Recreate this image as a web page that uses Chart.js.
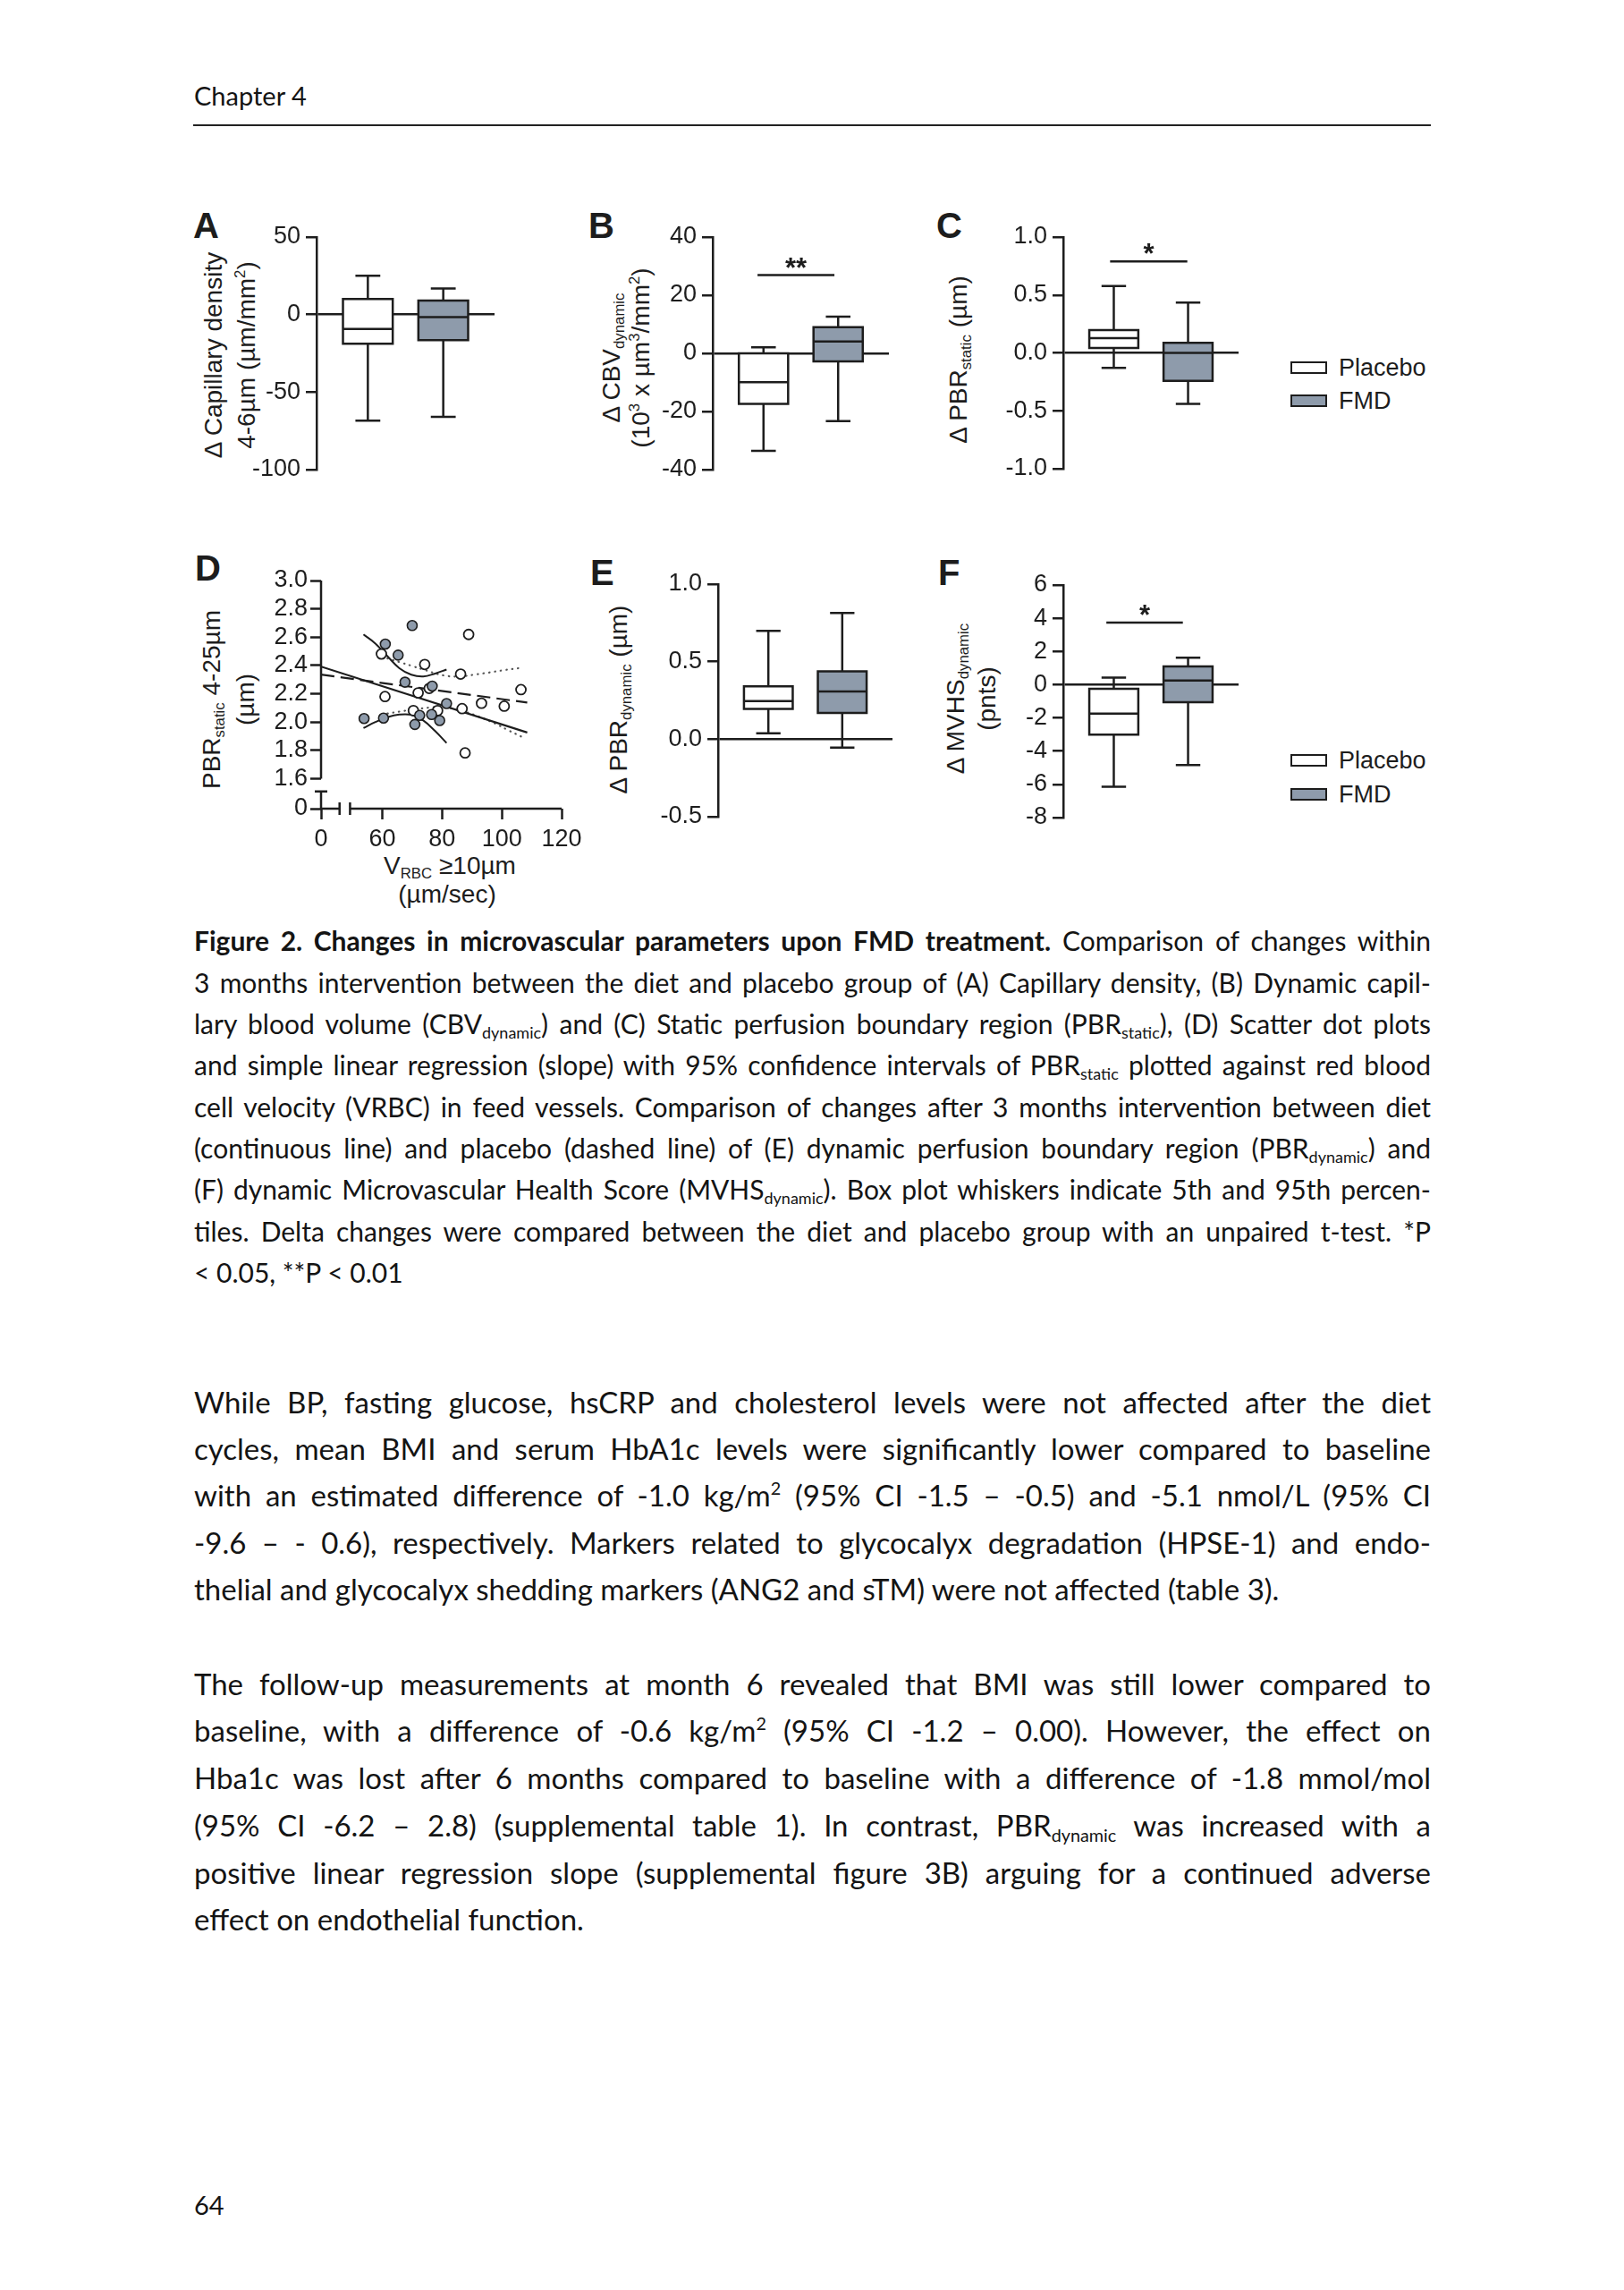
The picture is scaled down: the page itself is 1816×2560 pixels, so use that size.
<!DOCTYPE html>
<html>
<head>
<meta charset="utf-8">
<script src="https://cdn.jsdelivr.net/npm/chart.js@4.4.0/dist/chart.umd.min.js"></script>
<style>
  html, body { margin: 0; padding: 0; background: #fff; }
  body { width: 1816px; height: 2560px; position: relative; overflow: hidden; color: #141414; font-family: Lato, 'Noto Sans', sans-serif; }
  canvas { position: absolute; }
  .txt { position: absolute; left: 217px; width: 1383px; white-space: normal; }
  .cap { font-size: 30px; line-height: 36px; height: 36px; text-align: justify; text-align-last: justify; }
  .body { font-size: 33px; line-height: 40px; height: 40px; text-align: justify; text-align-last: justify; }
  .last { text-align: left; text-align-last: left; }
  sub, sup { font-size: 0.6em; line-height: 0; }
  sub { vertical-align: -0.3em; }
  sup { vertical-align: 0.65em; }
  .fig { position: absolute; font-family: 'Liberation Sans', Arial, Helvetica, sans-serif; color: #1d1d1d; white-space: nowrap; }
  .letter { font-size: 40px; font-weight: bold; line-height: 40px; }
  .ytitle { font-size: 28px; text-align: center; transform: translate(-50%, -50%) rotate(-90deg); }
  .xtitle { font-size: 28px; text-align: center; line-height: 30px; transform: translate(-50%, -50%); }
  .swatch { position: absolute; width: 37px; height: 10px; border: 2.5px solid #1d1d1d; }
  .legtext { font-size: 27px; line-height: 30px; }
  .rule { position: absolute; left: 216px; top: 139px; width: 1384px; height: 2px; background: #222; }
</style>
</head>
<body>

<div class="txt" style="top:87px; font-size:29px; line-height:40px;">Chapter 4</div>
<div class="rule"></div>

<!-- panel letters -->
<div class="fig letter" style="left:216px; top:232px;">A</div>
<div class="fig letter" style="left:658px; top:232px;">B</div>
<div class="fig letter" style="left:1047px; top:232px;">C</div>
<div class="fig letter" style="left:218px; top:615px;">D</div>
<div class="fig letter" style="left:660px; top:620px;">E</div>
<div class="fig letter" style="left:1049px; top:620px;">F</div>

<!-- axis titles -->
<div class="fig ytitle" style="left:257px; top:397px; line-height:37px;">Δ Capillary density<br>4-6µm (µm/mm<sup>2</sup>)</div>
<div class="fig ytitle" style="left:700px; top:400px; line-height:33px;">Δ CBV<sub>dynamic</sub><br>(10<sup>3</sup> x µm<sup>3</sup>/mm<sup>2</sup>)</div>
<div class="fig ytitle" style="left:1072px; top:402px; line-height:30px;">Δ PBR<sub>static</sub> (µm)</div>
<div class="fig ytitle" style="left:256px; top:782px; line-height:38px;">PBR<sub>static</sub> 4-25µm<br>(µm)</div>
<div class="fig ytitle" style="left:692px; top:782px; line-height:30px;">Δ PBR<sub>dynamic</sub> (µm)</div>
<div class="fig ytitle" style="left:1086px; top:781px; line-height:35px;">Δ MVHS<sub>dynamic</sub><br>(pnts)</div>
<div class="fig xtitle" style="left:503px; top:968px;">V<sub>RBC</sub> ≥10µm</div>
<div class="fig xtitle" style="left:500px; top:1000px;">(µm/sec)</div>

<!-- legends -->
<div class="swatch" style="left:1443px; top:404px; background:#fff;"></div>
<div class="fig legtext" style="left:1497px; top:396px;">Placebo</div>
<div class="swatch" style="left:1443px; top:441px; background:#8e9bab;"></div>
<div class="fig legtext" style="left:1497px; top:433px;">FMD</div>
<div class="swatch" style="left:1443px; top:843px; background:#fff;"></div>
<div class="fig legtext" style="left:1497px; top:835px;">Placebo</div>
<div class="swatch" style="left:1443px; top:881px; background:#8e9bab;"></div>
<div class="fig legtext" style="left:1497px; top:873px;">FMD</div>

<canvas id="chartA" width="285" height="308" style="left:274px; top:241px;"></canvas>
<canvas id="chartB" width="283" height="308" style="left:717px; top:241px;"></canvas>
<canvas id="chartC" width="282" height="307" style="left:1109px; top:241px;"></canvas>
<canvas id="chartD" width="389" height="329" style="left:269px; top:625px;"></canvas>
<canvas id="chartE" width="281" height="308" style="left:723px; top:629px;"></canvas>
<canvas id="chartF" width="282" height="308" style="left:1109px; top:630px;"></canvas>

<!-- caption -->
<div class="txt cap" style="top:1033px;"><b>Figure 2. Changes in microvascular parameters upon FMD treatment.</b> Comparison of changes within</div>
<div class="txt cap" style="top:1080px;">3 months intervention between the diet and placebo group of (A) Capillary density, (B) Dynamic capil-</div>
<div class="txt cap" style="top:1126px;">lary blood volume (CBV<sub>dynamic</sub>) and (C) Static perfusion boundary region (PBR<sub>static</sub>), (D) Scatter dot plots</div>
<div class="txt cap" style="top:1172px;">and simple linear regression (slope) with 95% confidence intervals of PBR<sub>static</sub> plotted against red blood</div>
<div class="txt cap" style="top:1219px;">cell velocity (VRBC) in feed vessels. Comparison of changes after 3 months intervention between diet</div>
<div class="txt cap" style="top:1265px;">(continuous line) and placebo (dashed line) of (E) dynamic perfusion boundary region (PBR<sub>dynamic</sub>) and</div>
<div class="txt cap" style="top:1311px;">(F) dynamic Microvascular Health Score (MVHS<sub>dynamic</sub>). Box plot whiskers indicate 5th and 95th percen-</div>
<div class="txt cap" style="top:1358px;">tiles. Delta changes were compared between the diet and placebo group with an unpaired t-test. *P</div>
<div class="txt cap last" style="top:1404px;">&lt; 0.05, **P &lt; 0.01</div>

<!-- body text -->
<div class="txt body" style="top:1547px;">While BP, fasting glucose, hsCRP and cholesterol levels were not affected after the diet</div>
<div class="txt body" style="top:1599px;">cycles, mean BMI and serum HbA1c levels were significantly lower compared to baseline</div>
<div class="txt body" style="top:1651px;">with an estimated difference of -1.0 kg/m<sup>2</sup> (95% CI -1.5 – -0.5) and -5.1 nmol/L (95% CI</div>
<div class="txt body" style="top:1704px;">-9.6 – - 0.6), respectively. Markers related to glycocalyx degradation (HPSE-1) and endo-</div>
<div class="txt body last" style="top:1756px;">thelial and glycocalyx shedding markers (ANG2 and sTM) were not affected (table 3).</div>

<div class="txt body" style="top:1862px;">The follow-up measurements at month 6 revealed that BMI was still lower compared to</div>
<div class="txt body" style="top:1914px;">baseline, with a difference of -0.6 kg/m<sup>2</sup> (95% CI -1.2 – 0.00). However, the effect on</div>
<div class="txt body" style="top:1967px;">Hba1c was lost after 6 months compared to baseline with a difference of -1.8 mmol/mol</div>
<div class="txt body" style="top:2020px;">(95% CI -6.2 – 2.8) (supplemental table 1). In contrast, PBR<sub>dynamic</sub> was increased with a</div>
<div class="txt body" style="top:2073px;">positive linear regression slope (supplemental figure 3B) arguing for a continued adverse</div>
<div class="txt body last" style="top:2125px;">effect on endothelial function.</div>

<div class="txt" style="top:2445px; font-size:29px; line-height:40px;">64</div>

<script>
// values: [5th pct, Q1, median, Q3, 95th pct]
const capDensityPlacebo = [-68.4, -18.8, -9.3, 10.0, 25.0];
const capDensityFMD = [-66.0, -16.5, -1.7, 9.0, 16.8];
const capDensityTicks = [-100, -50, 0, 50];

const cbvPlacebo = [-33.5, -17.4, -9.9, 0.0, 2.1];
const cbvFMD = [-23.3, -2.8, 4.1, 9.0, 12.6];
const cbvTicks = [-40, -20, 0, 20, 40];

const pbrStaticPlacebo = [-0.13, 0.042, 0.128, 0.196, 0.577];
const pbrStaticFMD = [-0.44, -0.242, 0.0, 0.086, 0.435];
const pbrStaticTicks = [-1.0, -0.5, 0.0, 0.5, 1.0];

const pbrDynPlacebo = [0.038, 0.195, 0.245, 0.341, 0.699];
const pbrDynFMD = [-0.054, 0.169, 0.307, 0.437, 0.814];
const pbrDynTicks = [-0.5, 0.0, 0.5, 1.0];

const mvhsPlacebo = [-6.14, -3.0, -1.74, -0.25, 0.43];
const mvhsFMD = [-4.83, -1.06, 0.25, 1.095, 1.63];
const mvhsTicks = [-8, -6, -4, -2, 0, 2, 4, 6];

// significance bars (y level, label)
const sigB = [26.9, '**'];
const sigC = [0.79, '*'];
const sigF = [3.74, '*'];

// panel D scatter: V_RBC (x) vs PBR_static (y)
const vrbcFMD = [70.0, 61.0, 65.3, 67.6, 53.9, 60.4, 72.5, 70.9, 76.5, 79.2, 81.5, 76.7];
const pbrFMD  = [2.682, 2.551, 2.473, 2.282, 2.025, 2.028, 2.047, 1.983, 2.053, 2.011, 2.131, 2.254];
const vrbcPlacebo = [88.9, 59.7, 74.2, 86.2, 106.4, 75.7, 72.0, 60.9, 93.2, 100.8, 86.7, 78.5, 70.4, 87.7];
const pbrPlacebo  = [2.619, 2.481, 2.407, 2.339, 2.229, 2.238, 2.206, 2.180, 2.133, 2.112, 2.095, 2.081, 2.081, 1.782];

// regression lines: value at the axis ("0") and at the right end
const fitEndX = 108.5;
const fitSolidY = [2.392, 1.926];
const fitDashedY = [2.335, 2.138];
// confidence bands
const ciFMDx = [53.7, 57.7, 61.7, 65.7, 69.7, 73.7, 77.7, 81.5];
const ciFMDupper = [2.619, 2.555, 2.466, 2.381, 2.335, 2.322, 2.343, 2.371];
const ciFMDlower = [1.958, 2.0, 2.034, 2.053, 2.051, 2.011, 1.936, 1.852];
const ciPlaceboUpperX = [61.7, 65.7, 69.7, 73.7, 80.7, 85.7, 90.7, 95.7, 100.7, 105.7];
const ciPlaceboUpper = [2.45, 2.424, 2.398, 2.371, 2.329, 2.322, 2.335, 2.35, 2.367, 2.381];
const ciPlaceboLowerX = [61.7, 65.7, 70.7, 75.7, 79.7, 85.7, 91.7, 97.7, 101.7, 106.7];
const ciPlaceboLower = [2.06, 2.074, 2.089, 2.102, 2.106, 2.085, 2.043, 1.99, 1.947, 1.895];
const xTicksD = [60, 80, 100, 120];
const yTicksD = [1.6, 1.8, 2.0, 2.2, 2.4, 2.6, 2.8, 3.0];

const INK = '#1d1d1d';
const FMD_FILL = '#8e9bab';
const FONT = "'Liberation Sans', Arial, Helvetica, sans-serif";
const TICK_SIZE = 27;

Chart.defaults.font.family = FONT;
Chart.defaults.font.size = TICK_SIZE;
Chart.defaults.color = INK;
Chart.defaults.animation = false;
Chart.defaults.events = [];
Chart.defaults.plugins.legend.display = false;
Chart.defaults.plugins.tooltip.enabled = false;

const X_MIN = 0.32, X_MAX = 2.68, BOX_HALF = 0.33, CAP_HALF = 0.165;

const pts = (xs, ys) => xs.map((x, i) => ({ x: x, y: ys[i] }));

function boxSets(stats, xc, fill) {
  const [lo, q1, med, q3, hi] = stats;
  const base = { showLine: true, pointRadius: 0, borderColor: INK, borderWidth: 2.5, fill: false };
  return [
    { ...base, order: 3, data: [{ x: xc, y: lo }, { x: xc, y: hi }] },
    { ...base, order: 3, data: [
      { x: xc - CAP_HALF, y: lo }, { x: xc + CAP_HALF, y: lo }, { x: xc, y: null },
      { x: xc - CAP_HALF, y: hi }, { x: xc + CAP_HALF, y: hi }] },
    { ...base, order: 2, fill: 'shape', backgroundColor: fill, borderJoinStyle: 'miter', borderCapStyle: 'square',
      data: [{ x: xc - BOX_HALF, y: q1 }, { x: xc + BOX_HALF, y: q1 }, { x: xc + BOX_HALF, y: q3 },
             { x: xc - BOX_HALF, y: q3 }, { x: xc - BOX_HALF, y: q1 }] },
    { ...base, order: 1, data: [{ x: xc - BOX_HALF, y: med }, { x: xc + BOX_HALF, y: med }] }
  ];
}

// star labels above significance bars + broken axes for panel D
const decorations = {
  id: 'decorations',
  beforeDatasetsDraw(chart, args, opts) {
    const br = opts.broken;
    if (!br) return;
    const { ctx, chartArea: a, scales: { x, y } } = chart;
    ctx.save();
    ctx.strokeStyle = INK;
    ctx.lineWidth = 2.5;
    ctx.beginPath();
    ctx.moveTo(a.left, a.top); ctx.lineTo(a.left, y.getPixelForValue(br.yUpperEnd));
    const yb = y.getPixelForValue(br.yLowerTop);
    ctx.moveTo(a.left, yb); ctx.lineTo(a.left, a.bottom);
    ctx.moveTo(a.left - 7, yb); ctx.lineTo(a.left + 7, yb);
    const xl = x.getPixelForValue(br.xLeftEnd), xr = x.getPixelForValue(br.xRightStart);
    ctx.moveTo(a.left, a.bottom); ctx.lineTo(xl, a.bottom);
    ctx.moveTo(xl, a.bottom - 7); ctx.lineTo(xl, a.bottom + 7);
    ctx.moveTo(xr, a.bottom - 7); ctx.lineTo(xr, a.bottom + 7);
    ctx.moveTo(xr, a.bottom); ctx.lineTo(a.right, a.bottom);
    ctx.stroke();
    ctx.restore();
  },
  afterDatasetsDraw(chart, args, opts) {
    const s = opts.sig;
    if (!s) return;
    const { ctx, scales: { x, y } } = chart;
    const yp = y.getPixelForValue(s.y);
    ctx.save();
    ctx.strokeStyle = INK;
    ctx.lineWidth = 2.5;
    ctx.beginPath();
    ctx.moveTo(x.getPixelForValue(s.from), yp);
    ctx.lineTo(x.getPixelForValue(s.to), yp);
    ctx.stroke();
    ctx.fillStyle = INK;
    ctx.font = 'bold 31px ' + FONT;
    ctx.textAlign = 'center';
    ctx.textBaseline = 'alphabetic';
    ctx.fillText(s.text, x.getPixelForValue((s.from + s.to) / 2), yp + 2);
    ctx.restore();
  }
};
Chart.register(decorations);

function boxChart(id, placebo, fmd, ticks, fmt, sig) {
  const tickVals = ticks.slice();
  new Chart(document.getElementById(id), {
    type: 'line',
    data: { datasets: [...boxSets(placebo, 1, '#ffffff'), ...boxSets(fmd, 2, FMD_FILL)] },
    options: {
      responsive: false,
      layout: { padding: { top: 24, bottom: 24, left: 0, right: 6 } },
      scales: {
        x: { type: 'linear', display: false, min: X_MIN, max: X_MAX },
        y: {
          type: 'linear',
          min: Math.min(...tickVals), max: Math.max(...tickVals),
          afterBuildTicks: s => { s.ticks = tickVals.map(v => ({ value: v })); },
          afterFit: s => { s.width = 80; },
          border: { display: true, color: INK, width: 2.5 },
          grid: {
            drawOnChartArea: true,
            color: c => (c.tick && Math.abs(c.tick.value) < 1e-9) ? INK : 'rgba(0,0,0,0)',
            lineWidth: 2.5, tickColor: INK, tickLength: 12, tickWidth: 2.5
          },
          ticks: { color: INK, padding: 6, autoSkip: false, font: { size: TICK_SIZE }, callback: v => fmt(v) }
        }
      },
      plugins: { decorations: { sig: sig } }
    }
  });
}

const intFmt = v => String(Math.round(v));
const decFmt = v => (Math.abs(v) < 1e-9 ? 0 : v).toFixed(1);

boxChart('chartA', capDensityPlacebo, capDensityFMD, capDensityTicks, intFmt, null);
boxChart('chartB', cbvPlacebo, cbvFMD, cbvTicks, intFmt, { y: sigB[0], text: sigB[1], from: 0.92, to: 1.95 });
boxChart('chartC', pbrStaticPlacebo, pbrStaticFMD, pbrStaticTicks, decFmt, { y: sigC[0], text: sigC[1], from: 0.95, to: 1.99 });
boxChart('chartE', pbrDynPlacebo, pbrDynFMD, pbrDynTicks, decFmt, null);
boxChart('chartF', mvhsPlacebo, mvhsFMD, mvhsTicks, intFmt, { y: sigF[0], text: sigF[1], from: 0.9, to: 1.93 });

// panel D: broken axes, "0" sits at the start of each axis
const D_XMIN = 39.5, D_YMIN = 1.388;
const lineBase = { showLine: true, pointRadius: 0, borderColor: INK, fill: false };
new Chart(document.getElementById('chartD'), {
  type: 'line',
  data: {
    datasets: [
      { showLine: false, order: 0, data: pts(vrbcFMD, pbrFMD), pointRadius: 5.5, pointBackgroundColor: FMD_FILL, pointBorderColor: INK, pointBorderWidth: 1.6 },
      { showLine: false, order: 0, data: pts(vrbcPlacebo, pbrPlacebo), pointRadius: 5.5, pointBackgroundColor: '#ffffff', pointBorderColor: INK, pointBorderWidth: 1.8 },
      { ...lineBase, order: 2, borderWidth: 2.2, data: pts([D_XMIN, fitEndX], fitSolidY) },
      { ...lineBase, order: 2, borderWidth: 2.2, borderDash: [15, 7], data: pts([D_XMIN, fitEndX], fitDashedY) },
      { ...lineBase, order: 2, borderWidth: 2, tension: 0.4, data: pts(ciFMDx, ciFMDupper) },
      { ...lineBase, order: 2, borderWidth: 2, tension: 0.4, data: pts(ciFMDx, ciFMDlower) },
      { ...lineBase, order: 2, borderWidth: 2.2, tension: 0.4, borderColor: '#555', borderCapStyle: 'round', borderDash: [0.5, 6], data: pts(ciPlaceboUpperX, ciPlaceboUpper) },
      { ...lineBase, order: 2, borderWidth: 2.2, tension: 0.4, borderColor: '#555', borderCapStyle: 'round', borderDash: [0.5, 6], data: pts(ciPlaceboLowerX, ciPlaceboLower) }
    ]
  },
  options: {
    responsive: false,
    layout: { padding: { top: 24, bottom: 0, left: 0, right: 30 } },
    scales: {
      x: {
        type: 'linear', min: D_XMIN, max: 120,
        afterBuildTicks: s => { s.ticks = [D_XMIN, ...xTicksD].map(v => ({ value: v })); },
        afterFit: s => { s.height = 50; },
        border: { display: false },
        grid: { drawOnChartArea: false, drawTicks: true, tickColor: INK, tickLength: 12, tickWidth: 2.5 },
        ticks: { color: INK, padding: 6, autoSkip: false, maxRotation: 0, font: { size: TICK_SIZE },
                 callback: v => (v === D_XMIN ? '0' : String(v)) }
      },
      y: {
        type: 'linear', min: D_YMIN, max: 3.0,
        afterBuildTicks: s => { s.ticks = [D_YMIN, ...yTicksD].map(v => ({ value: v })); },
        afterFit: s => { s.width = 90; },
        border: { display: false },
        grid: { drawOnChartArea: false, drawTicks: true, tickColor: INK, tickLength: 12, tickWidth: 2.5 },
        ticks: { color: INK, padding: 3, autoSkip: false, font: { size: TICK_SIZE },
                 callback: v => (v === D_YMIN ? '0' : v.toFixed(1)) }
      }
    },
    plugins: { decorations: { broken: { yUpperEnd: 1.6, yLowerTop: 1.51, xLeftEnd: 45.7, xRightStart: 49.2 } } }
  }
});
</script>
</body>
</html>
